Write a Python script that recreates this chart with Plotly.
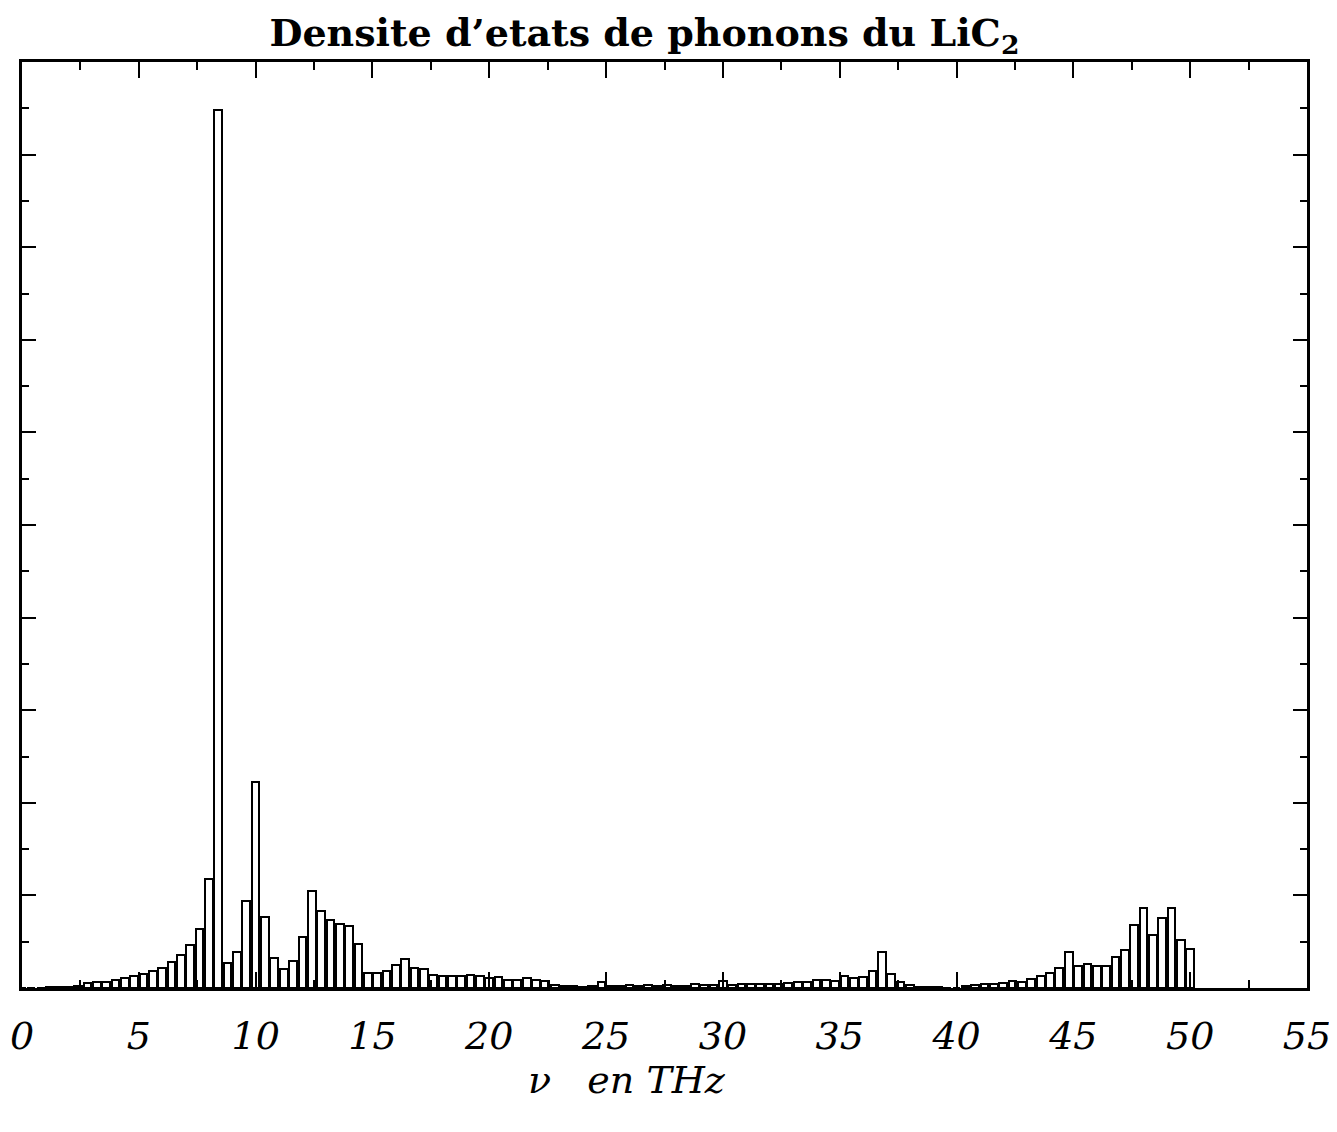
import plotly.graph_objects as go

# Bin centres (THz), bin width 0.4 THz
freq_thz = [
    0.0, 0.4, 0.8, 1.2, 1.6, 2.0, 2.4, 2.8, 3.2, 3.6,
    4.0, 4.4, 4.8, 5.2, 5.6, 6.0, 6.4, 6.8, 7.2, 7.6,
    8.0, 8.4, 8.8, 9.2, 9.6, 10.0, 10.4, 10.8, 11.2, 11.6,
    12.0, 12.4, 12.8, 13.2, 13.6, 14.0, 14.4, 14.8, 15.2, 15.6,
    16.0, 16.4, 16.8, 17.2, 17.6, 18.0, 18.4, 18.8, 19.2, 19.6,
    20.0, 20.4, 20.8, 21.2, 21.6, 22.0, 22.4, 22.8, 23.2, 23.6,
    24.0, 24.4, 24.8, 25.2, 25.6, 26.0, 26.4, 26.8, 27.2, 27.6,
    28.0, 28.4, 28.8, 29.2, 29.6, 30.0, 30.4, 30.8, 31.2, 31.6,
    32.0, 32.4, 32.8, 33.2, 33.6, 34.0, 34.4, 34.8, 35.2, 35.6,
    36.0, 36.4, 36.8, 37.2, 37.6, 38.0, 38.4, 38.8, 39.2, 39.6,
    40.0, 40.4, 40.8, 41.2, 41.6, 42.0, 42.4, 42.8, 43.2, 43.6,
    44.0, 44.4, 44.8, 45.2, 45.6, 46.0, 46.4, 46.8, 47.2, 47.6,
    48.0, 48.4, 48.8, 49.2, 49.6, 50.0,
]

# Phonon density of states (arbitrary units)
dos = [
    0.00, 0.01, 0.01, 0.02, 0.02, 0.03, 0.05, 0.10, 0.12, 0.14,
    0.17, 0.21, 0.26, 0.31, 0.37, 0.44, 0.57, 0.71, 0.93, 1.27,
    2.35, 18.97, 0.53, 0.77, 1.88, 4.44, 1.53, 0.65, 0.41, 0.59,
    1.10, 2.09, 1.67, 1.46, 1.39, 1.33, 0.95, 0.32, 0.33, 0.36,
    0.49, 0.62, 0.43, 0.40, 0.29, 0.27, 0.25, 0.27, 0.28, 0.26,
    0.22, 0.24, 0.17, 0.17, 0.22, 0.17, 0.15, 0.06, 0.04, 0.05,
    0.03, 0.05, 0.12, 0.05, 0.04, 0.07, 0.05, 0.06, 0.04, 0.07,
    0.05, 0.05, 0.08, 0.06, 0.07, 0.15, 0.07, 0.09, 0.08, 0.08,
    0.09, 0.09, 0.10, 0.12, 0.14, 0.17, 0.18, 0.15, 0.25, 0.22,
    0.24, 0.37, 0.77, 0.30, 0.12, 0.06, 0.03, 0.02, 0.02, 0.01,
    0.01, 0.05, 0.06, 0.08, 0.09, 0.10, 0.16, 0.13, 0.19, 0.25,
    0.32, 0.44, 0.77, 0.48, 0.51, 0.48, 0.48, 0.67, 0.82, 1.36,
    1.72, 1.15, 1.52, 1.72, 1.04, 0.85,
]

x_tick_vals = [0, 5, 10, 15, 20, 25, 30, 35, 40, 45, 50, 55]
x_tick_text = ["0", "5", "10", "15", "20", "25", "30", "35", "40", "45", "50", "55"]

title_text = "Densite d’etats de phonons du LiC<sub>2</sub>"
x_title = "ν   en THz"

fig = go.Figure()
fig.add_trace(go.Bar(
    x=freq_thz, y=dos, width=0.33,
    marker=dict(color="white", line=dict(color="black", width=2)),
    showlegend=False,
))

fig.update_layout(
    width=1337, height=1132,
    paper_bgcolor="white", plot_bgcolor="white",
    margin=dict(l=14, r=38, t=54, b=152, autoexpand=False),
    bargap=0,
    title=dict(text=title_text, x=0.476, xanchor="center", y=0.978, yanchor="middle",
               font=dict(family="DejaVu Serif", size=38, color="black", weight="bold")),
    annotations=[dict(text=x_title, xref="paper", yref="paper", x=0.471, y=-0.099,
                      xanchor="center", yanchor="middle", showarrow=False,
                      font=dict(family="DejaVu Serif", size=38, color="black", style="italic"))],
)

fig.update_xaxes(
    range=[0, 55], showgrid=False, zeroline=False, automargin=False,
    showline=True, linewidth=3, linecolor="black", mirror="allticks",
    tickmode="array", tickvals=x_tick_vals, ticktext=x_tick_text,
    ticks="inside", ticklen=16, tickwidth=2, tickcolor="black",
    minor=dict(dtick=2.5, tick0=0, ticks="inside", ticklen=8, tickwidth=2, tickcolor="black"),
    tickfont=dict(family="DejaVu Serif", size=38, color="black", style="italic"),
    ticklabelstandoff=12,
)
fig.update_yaxes(
    range=[0, 20], showgrid=False, zeroline=False, automargin=False,
    showline=True, linewidth=3, linecolor="black", mirror="allticks",
    tickmode="linear", tick0=0, dtick=2, showticklabels=False,
    ticks="inside", ticklen=14, tickwidth=2, tickcolor="black",
    minor=dict(dtick=1, tick0=0, ticks="inside", ticklen=7, tickwidth=2, tickcolor="black"),
)

fig.write_html("out.html")
